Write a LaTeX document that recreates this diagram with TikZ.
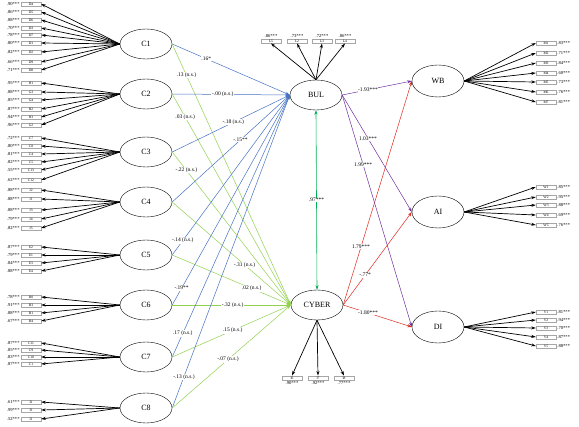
\documentclass[tikz,border=0pt]{standalone}
\usepackage{fontspec}
\setmainfont{Liberation Serif}
\usetikzlibrary{shapes.geometric, arrows.meta}

\definecolor{azul}{RGB}{68,114,196}
\definecolor{verde}{RGB}{146,208,80}
\definecolor{verdeesc}{RGB}{0,176,80}
\definecolor{roxo}{RGB}{112,48,160}
\definecolor{vermelho}{RGB}{224,40,30}

\tikzset{
    latente/.style={ellipse, draw, thin, fill=white, minimum width=52pt, minimum height=30pt, inner sep=0pt, font=\fontsize{8}{9}\selectfont},
    caixa/.style={rectangle, draw=gray!70, fill=white, minimum width=20pt, minimum height=4.5pt, inner sep=0pt, font=\fontsize{3.6}{4}\selectfont},
    carga/.style={inner sep=1pt, font=\fontsize{4.6}{5}\selectfont},
    coef/.style={fill=white, text=black, inner sep=0.6pt, font=\fontsize{5.5}{6}\selectfont},
    seta/.style={->, line width=0.7pt},
    caminho/.style={->, line width=0.5pt},
}

\begin{document}
\begin{tikzpicture}[x=1pt, y=-1pt, >={Stealth[length=4.5pt,width=3pt]}]
    \useasboundingbox (0,0) rectangle (579,427);

    % variaveis latentes
    \foreach \n/\yy in {1/44, 2/94, 3/152, 4/202, 5/255, 6/305, 7/357, 8/408}
        \node[latente] (c\n) at (146,\yy) {C\n};
    \node[latente] (bul) at (316,95) {BUL};
    \node[latente] (cyber) at (317,305) {CYBER};
    \node[latente, minimum height=32pt] (wb) at (438,81) {WB};
    \node[latente, minimum height=32pt] (ai) at (438,212) {AI};
    \node[latente, minimum height=32pt] (di) at (438,327) {DI};

    % indicadores da esquerda
    \foreach \lat/\nome/\yy/\carga in {1/D4/4/.90, 1/D5/12/.86, 1/D6/20/.88, 1/D3/28/.70, 1/D7/35/.78, 1/D1/43/.80, 1/D2/52/.82, 1/D9/62/.66, 1/D8/70/.71,
        2/H1/83/.95, 2/G3/92/.88, 2/G4/100/.85, 2/H2/109/.87, 2/H3/117/.94, 2/G2/125/.96,
        3/C7/138/.72, 3/C8/146/.80, 3/C4/154/.81, 3/C5/162/.82, 3/C13/170/.55, 3/C12/180/.62,
        4/J2/190/.88, 4/J1/199/.88, 4/J3/210/.88, 4/J4/219/.79, 4/J5/228/.82,
        5/E2/247/.87, 5/E1/255/.79, 5/E3/263/.84, 5/E4/271/.88,
        6/B0/297/.78, 6/B3/305/.91, 6/B1/313/.88, 6/B4/321/.67,
        7/C11/343/.87, 7/C9/350/.85, 7/C10/357/.83, 7/C1/364/.87,
        8/I2/402/.61, 8/I3/410/.99, 8/I1/419/.52} {
        \node[caixa] (x\nome) at (31,\yy) {\nome};
        \node[carga, anchor=east] (cx\nome) at (x\nome.west) {\carga***};
        \draw[seta] (c\lat.west) -- (x\nome.east);
    }

    % indicadores da direita
    \foreach \lat/\nome/\yy/\carga in {wb/M1/43/.83, wb/M2/53/.71, wb/M3/63/.84, wb/M4/73/.60, wb/M5/82/.73, wb/M6/92/.76, wb/M7/102/.81,
        ai/W1/187/.85, ai/W2/197/.95, ai/W3/205/.88, ai/W4/215/.69, ai/W5/225/.76,
        di/V1/312/.81, di/V2/320/.94, di/V3/328/.70, di/V4/337/.87, di/V5/346/.88} {
        \node[caixa] (r\nome) at (546,\yy) {\nome};
        \node[carga, anchor=west] (cr\nome) at (r\nome.east) {\carga***};
        \draw[seta] (\lat.east) -- (r\nome.west);
    }

    % BUL e CYBER
    \foreach \nome/\xx/\carga in {L5/271/.86, L2/297/.73, L3/322/.72, L4/345/.86} {
        \node[caixa] (b\nome) at (\xx,41) {\nome};
        \node[carga, anchor=south] (cb\nome) at (b\nome.north) {\carga***};
        \draw[seta] (bul.north) -- (b\nome.south);
    }
    \foreach \nome/\xx/\carga in {I6/292/.90, I7/318/.92, I8/344/.77} {
        \node[caixa] (y\nome) at (\xx,378) {\nome};
        \node[carga, anchor=north] (cy\nome) at (y\nome.south) {\carga***};
        \draw[seta] (cyber.south) -- (y\nome.north);
    }

    % caminhos estruturais
    \foreach \n in {1,...,8} {
        \draw[caminho, azul] (c\n.east) -- (bul.west);
        \draw[caminho, verde] (c\n.east) -- (cyber.west);
    }
    \foreach \alvo in {wb, ai, di} {
        \draw[caminho, roxo] (bul.east) -- (\alvo.west);
        \draw[caminho, vermelho] (cyber.east) -- (\alvo.west);
    }
    \draw[<->, verdeesc, semithick] (bul.south) -- node[coef] {.97***} (cyber.north);

    % coeficientes
    \foreach \n/\p/\txt in {1/.29/.16*, 2/.43/-.00 (n.s.), 3/.52/-.18 (n.s.), 4/.58/-.15**, 5/.09/-.14 (n.s.), 6/.08/-.19**, 7/.09/.17 (n.s.), 8/.10/-.13 (n.s.)}
        \path (c\n.east) -- node[coef, pos=\p] {\txt} (bul.west);
    \foreach \n/\p/\txt in {1/.12/.13 (n.s.), 2/.11/.03 (n.s.), 3/.12/-.22 (n.s.), 4/.61/-.31 (n.s.), 5/.67/.02 (n.s.), 6/.51/-.32 (n.s.), 7/.51/.15 (n.s.), 8/.47/-.07 (n.s.)}
        \path (c\n.east) -- node[coef, pos=\p] {\txt} (cyber.west);
    \foreach \alvo/\p/\txt in {wb/.37/-1.93***, ai/.37/1.03***, di/.30/1.99***}
        \path (bul.east) -- node[coef, pos=\p] {\txt} (\alvo.west);
    \foreach \alvo/\p/\txt in {wb/.26/1.79***, ai/.32/-.77*, di/.36/-1.80***}
        \path (cyber.east) -- node[coef, pos=\p] {\txt} (\alvo.west);

\end{tikzpicture}
\end{document}
